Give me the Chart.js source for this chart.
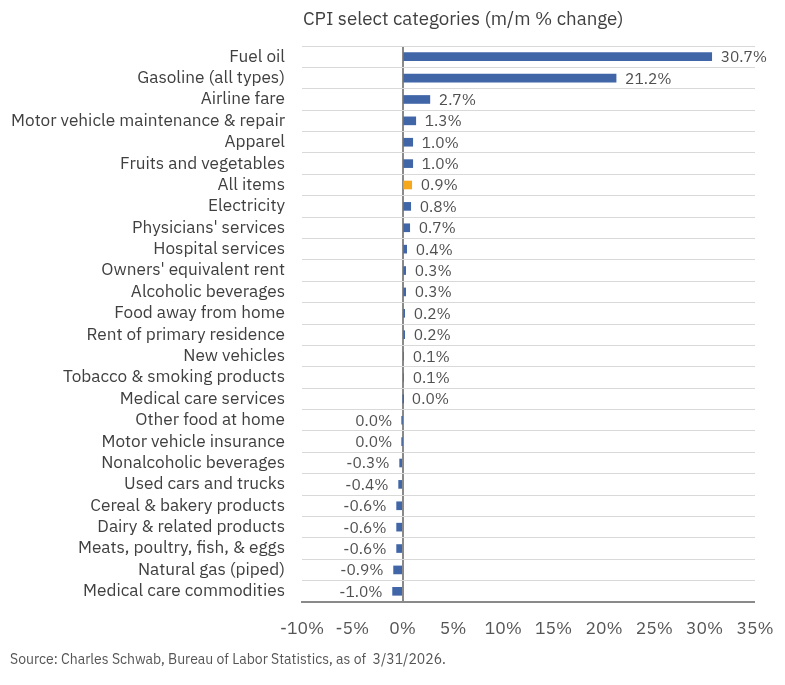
<!DOCTYPE html>
<html>
<head>
<meta charset="utf-8">
<script src="https://cdn.jsdelivr.net/npm/chart.js@4/dist/chart.umd.min.js"></script>
<style>
  html, body { margin: 0; padding: 0; background: #fff; }
  #wrap { position: relative; width: 785px; height: 685px; }
</style>
</head>
<body>
<div id="wrap"><canvas id="chart-cpi"></canvas></div>
<script>
// CPI select categories, m/m % change
const categories = [
  "Fuel oil",
  "Gasoline (all types)",
  "Airline fare",
  "Motor vehicle maintenance & repair",
  "Apparel",
  "Fruits and vegetables",
  "All items",
  "Electricity",
  "Physicians' services",
  "Hospital services",
  "Owners' equivalent rent",
  "Alcoholic beverages",
  "Food away from home",
  "Rent of primary residence",
  "New vehicles",
  "Tobacco & smoking products",
  "Medical care services",
  "Other food at home",
  "Motor vehicle insurance",
  "Nonalcoholic beverages",
  "Used cars and trucks",
  "Cereal & bakery products",
  "Dairy & related products",
  "Meats, poultry, fish, & eggs",
  "Natural gas (piped)",
  "Medical care commodities",
];
const changePct = [
  30.7, 21.2, 2.7, 1.3, 1.0, 1.0, 0.9, 0.8, 0.7, 0.4, 0.3, 0.3, 0.2, 0.2,
  0.1, 0.1, 0.02, -0.02, -0.02, -0.3, -0.4, -0.6, -0.6, -0.6, -0.9, -1.0,
];
const highlight = "All items";
const xTicks = [-10, -5, 0, 5, 10, 15, 20, 25, 30, 35];

const titleText = "CPI select categories (m/m % change)";
const sourceText = "Source: Charles Schwab, Bureau of Labor Statistics, as of  3/31/2026.";

const fontFamily = "'IBM Plex Sans', 'Noto Sans', 'Open Sans', sans-serif";
const blue = "#4166a8";
const orange = "#f5a81c";

const fmt = (v) => {
  let s = v.toFixed(1);
  if (s === "-0.0") s = "0.0";
  return s + "%";
};

const labelPlugin = {
  id: "barLabels",
  afterDatasetsDraw(chart) {
    const { ctx } = chart;
    const meta = chart.getDatasetMeta(0);
    ctx.save();
    ctx.font = "15.5px " + fontFamily;
    ctx.fillStyle = "#505050";
    ctx.textBaseline = "middle";
    meta.data.forEach((bar, i) => {
      const v = changePct[i];
      if (v >= 0) {
        ctx.textAlign = "left";
        ctx.fillText(fmt(v), bar.x + 9, bar.y + 1);
      } else {
        ctx.textAlign = "right";
        ctx.fillText(fmt(v), bar.x - 10, bar.y + 1);
      }
    });
    ctx.restore();
  },
};

const textPlugin = {
  id: "titleSource",
  afterDraw(chart) {
    const { ctx, chartArea } = chart;
    ctx.save();
    ctx.fillStyle = "#404040";
    ctx.font = "18.7px " + fontFamily;
    ctx.textAlign = "left";
    ctx.textBaseline = "middle";
    ctx.fillText(titleText, chartArea.left + 1, 20);
    ctx.fillStyle = "#555";
    ctx.font = "14px " + fontFamily;
    ctx.fillText(sourceText, 10, 660);
    ctx.restore();
  },
};

new Chart(document.getElementById("chart-cpi"), {
  type: "bar",
  data: {
    labels: categories,
    datasets: [
      {
        data: changePct,
        backgroundColor: categories.map((c) => (c === highlight ? orange : blue)),
        barThickness: 8,
        borderWidth: 0,
      },
    ],
  },
  options: {
    indexAxis: "y",
    responsive: true,
    maintainAspectRatio: false,
    animation: false,
    layout: { padding: { top: 46, right: 30, left: 0, bottom: 0 } },
    plugins: {
      legend: { display: false },
      tooltip: { enabled: false },
    },
    scales: {
      x: {
        min: -10,
        max: 35,
        afterBuildTicks(scale) {
          scale.ticks = xTicks.map((v) => ({ value: v }));
        },
        afterFit(scale) {
          scale.height = 83;
          scale.paddingLeft = 0;
          scale.paddingRight = 0;
        },
        ticks: {
          color: "#555",
          font: { family: fontFamily, size: 17.5 },
          padding: 16,
          maxRotation: 0,
          callback: (v) => v + "%",
        },
        grid: {
          drawTicks: false,
          color: (c) => (c.tick && c.tick.value === 0 ? "#8a8a8a" : "rgba(0,0,0,0)"),
          lineWidth: (c) => (c.tick && c.tick.value === 0 ? 2 : 0),
        },
        border: { color: "#8a8a8a", width: 2 },
      },
      y: {
        afterFit(scale) {
          scale.width = 302;
        },
        ticks: {
          color: "#404040",
          font: { family: fontFamily, size: 17.2 },
          padding: 17,
          autoSkip: false,
        },
        grid: {
          offset: true,
          drawTicks: false,
          color: "#d9d9d9",
          lineWidth: 1,
        },
        border: { display: false },
      },
    },
  },
  plugins: [labelPlugin, textPlugin],
});
</script>
</body>
</html>
